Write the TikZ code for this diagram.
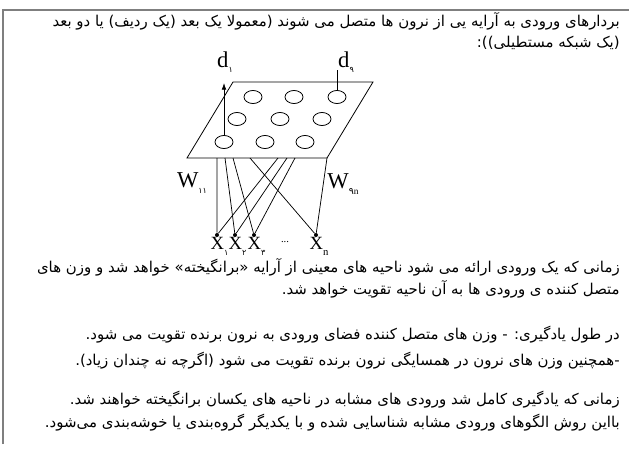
\documentclass[tikz,border=0pt]{standalone}
\usepackage{fontspec}
\setmainfont{Liberation Serif}
\newfontfamily\farsifont[Script=Arabic]{DejaVu Sans}
\TeXXeTstate=1
\usetikzlibrary{arrows.meta,positioning,calc,shapes.geometric}
\definecolor{framegray}{HTML}{7F7F7F}
\newcommand\fasub[1]{\raisebox{-4pt}{\farsifont\fontsize{6}{6}\selectfont #1}}
\tikzset{fatext/.style={anchor=base east,inner sep=0pt,font=\farsifont\fontsize{11.2}{13}\selectfont},unit/.style={draw,ellipse,line width=.6pt,minimum width=13.5pt,minimum height=9.8pt,inner sep=0pt},wire/.style={line width=.55pt},dot/.style={circle,fill,inner sep=0pt,minimum size=3pt},lbl/.style={inner sep=0pt,font=\fontsize{17}{17}\selectfont},xlbl/.style={inner sep=0pt,anchor=north west,xshift=-5pt,font=\fontsize{14}{14}\selectfont}}

\begin{document}
\begin{tikzpicture}[x=.75pt,y=-.75pt]
\useasboundingbox (0,0) rectangle (629,450);
\draw[framegray,line width=1.5pt] (3,444)--(3,10)--(629,10);
% text above
\node[fatext] (t1) at (620,26) {\beginR بردارهای ورودی به آرایه یی از نرون ها متصل می شوند (معمولا یک بعد (یک ردیف) یا دو بعد\endR};
\node[fatext] (t2) at (620,47) {\beginR (یک شبکه مستطیلی)):\endR};
% the array
\draw[line width=.6pt] (233,82)--(373,82)--(327,158)--(187,158)--cycle;
\node[unit] (c11) at (253,97) {};
\node[unit] (c12) at (294,97) {};
\node[unit] (c13) at (337,97) {};
\node[unit] (c21) at (237,119) {};
\node[unit] (c22) at (280,119) {};
\node[unit] (c23) at (322,119) {};
\node[unit] (c31) at (224,142) {};
\node[unit] (c32) at (265,142) {};
\node[unit] (c33) at (305,142) {};
\coordinate (up1) at (224,83);
\coordinate (up9) at (337,70);
\draw[wire,-{Latex[length=5pt,width=3.5pt]}] (c31.north)--(up1);
\draw[wire] (c13.north)--(up9);
\node[lbl] (d1) at (225,62) {d\fasub{۱}};
\node[lbl] (d9) at (346,62) {d\fasub{۹}};
% inputs
\node[dot] (x1) at (217,235) {};
\node[dot] (x2) at (235,235) {};
\node[dot] (x3) at (254,235) {};
\node[dot] (xn) at (316,235) {};
\node[xlbl] (lx1) at (x1.south) {X\fasub{۱}};
\node[xlbl] (lx2) at (x2.south) {X\fasub{۲}};
\node[xlbl] (lx3) at (x3.south) {X\fasub{۳}};
\node[xlbl] (lxn) at (xn.south) {X\raisebox{-4pt}{\fontsize{8}{8}\selectfont n}};
\node[inner sep=0pt,font=\fontsize{8}{8}\selectfont] (dots) at (285,242) {...};
\foreach \i/\x in {1/217,2/225,3/233,4/250,5/278,6/287,7/295,8/327}
  \coordinate (b\i) at (\x,158);
\draw[wire] (b1)--(x1) (b2)--(x2) (b3)--(x3) (b4)--(xn);
\draw[wire] (b5)--(x1) (b6)--(x2) (b7)--(x3) (b8)--(xn);
\node[lbl] (w11) at (192,183) {W\fasub{۱۱}};
\node[lbl] (w9n) at (343,184) {W\raisebox{-4pt}{\fontsize{7}{7}\selectfont{\farsifont ۹}n}};
% text below
\node[fatext] (t3) at (620,272) {\beginR زمانی که یک ورودی ارائه می شود ناحیه های معینی از آرایه «برانگیخته» خواهد شد و وزن های\endR};
\node[fatext] (t4) at (620,294) {\beginR متصل کننده ی ورودی ها به آن ناحیه تقویت خواهد شد.\endR};
\node[fatext] (t5) at (620,339) {\beginR در طول یادگیری: - وزن های متصل کننده فضای ورودی به نرون برنده تقویت می شود.\endR};
\node[fatext] (t6) at (620,365) {\beginR -همچنین وزن های نرون در همسایگی نرون برنده تقویت می شود (اگرچه نه چندان زیاد).\endR};
\node[fatext] (t7) at (620,404) {\beginR زمانی که یادگیری کامل شد ورودی های مشابه در ناحیه های یکسان برانگیخته خواهند شد.\endR};
\node[fatext] (t8) at (620,427) {\beginR بااین روش الگوهای ورودی مشابه شناسایی شده و با یکدیگر گروه‌بندی یا خوشه‌بندی می‌شود.\endR};
\end{tikzpicture}
\end{document}
